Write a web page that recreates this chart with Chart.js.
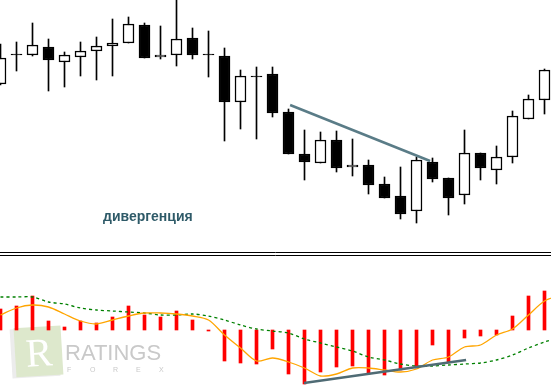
<!DOCTYPE html>
<html>
<head>
<meta charset="utf-8">
<script src="https://cdn.jsdelivr.net/npm/chart.js@4.4.1/dist/chart.umd.min.js"></script>
<style>
  html, body { margin: 0; padding: 0; background: #fff; }
  #wrap { position: relative; width: 551px; height: 388px; }
</style>
</head>
<body>
<div id="wrap"><canvas id="grafico"></canvas></div>
<script>
// Свечи: open, high, low, close (в пунктах)
const opens  = [166,196,195,203,188,193,199,204,207,225,193,195,212,196,194,148,174,176,138,96,87,110,83,85,66,54,39,88,72,55,97,80,93,131,150];
const highs  = [206,208,227,211,198,208,213,231,233,227,224,262,222,219,202,180,183,183,141,120,118,119,111,90,73,83,93,92,72,120,97,104,139,155,181];
const lows   = [165,179,194,159,163,174,170,174,207,192,191,184,191,173,109,121,111,133,96,70,87,78,74,56,52,31,27,68,35,46,70,66,87,131,136];
const closes = [192,195,205,190,195,199,204,207,226,192,195,211,195,195,148,174,173,137,96,88,110,82,85,65,52,36,90,71,52,97,82,93,134,151,180];

// Индикатор: гистограмма и две линии
const histogram = [21,24,34,9,3,9,7,13,24,15,13,19,10,-1,-31,-33,-34,-19,-44,-54,-42,-37,-36,-44,-45,-40,-38,-15,-33,-8,-6,-5,14,34,39];
const signalLine = [15,22,25,23,16,9,6,10,14,17,17,16,14,10,-5,-18,-31,-28,-32,-38,-46,-44,-38,-38,-40,-42,-39,-30,-27,-17,-15,-5,1,15,29,35];
const slowLine = [33,33,33,28,26,22,20,19,18,17,15,15,16,14,10,5,1,-1,-3,-9,-13,-17,-21,-27,-30,-34,-36,-36,-35,-34,-33,-30,-25,-18,-12,-7];

// Линии дивергенции: [номер свечи, значение]
const priceDivergence = [[18.1, 145], [26.85, 89]];
const indicatorDivergence = [[18.97, -53], [29.1, -30]];

const label = "дивергенция";

const idx = opens.map((_, i) => i);
const toXY = arr => arr.map((v, i) => ({ x: i, y: v }));

const decor = {
  id: "decor",
  beforeDatasetsDraw(chart) {
    const c = chart.ctx;
    c.save();
    // логотип (водяной знак)
    c.translate(37, 352);
    c.rotate(-0.06);
    c.fillStyle = "#ececec";
    c.fillRect(-26, -24, 48, 49);
    c.fillStyle = "#dde8cc";
    c.fillRect(-22, -25, 47, 49);
    c.fillStyle = "#ffffff";
    c.font = "40px 'Liberation Serif'";
    c.textAlign = "center";
    c.fillText("R", 2, 14);
    c.restore();

    c.save();
    c.fillStyle = "#c9c9c9";
    c.font = "22px 'Liberation Sans'";
    c.textBaseline = "alphabetic";
    c.fillText("RATINGS", 65, 360, 97);
    c.font = "7px 'Liberation Sans'";
    ["F", "O", "R", "E", "X"].forEach((ch, k) => c.fillText(ch, 67 + k * 23, 372));
    c.restore();
  },
  afterDatasetsDraw(chart) {
    const c = chart.ctx;
    c.save();
    c.strokeStyle = "#000";
    c.lineWidth = 1;
    [252.5, 255.5].forEach(y => {
      c.beginPath(); c.moveTo(0, y); c.lineTo(551, y); c.stroke();
    });
    c.fillStyle = "#2e5a68";
    c.font = "bold 14px 'Liberation Sans'";
    c.fillText(label, 103, 221);
    c.restore();
  }
};

new Chart(document.getElementById("grafico"), {
  plugins: [decor],
  data: {
    datasets: [
      {
        type: "bar",
        data: idx.map(i => ({ x: i, y: [lows[i], highs[i]] })),
        backgroundColor: "#000",
        barThickness: 1,
        grouped: false,
        yAxisID: "y",
        order: 5
      },
      {
        type: "bar",
        data: idx.map(i => ({ x: i, y: [opens[i], closes[i]] })),
        backgroundColor: idx.map(i => closes[i] > opens[i] ? "#fff" : "#000"),
        borderColor: "#000",
        borderWidth: 1.5,
        borderSkipped: false,
        barThickness: 11,
        grouped: false,
        yAxisID: "y",
        order: 4
      },
      {
        type: "bar",
        data: toXY(histogram),
        backgroundColor: "#ff0000",
        barThickness: 3,
        grouped: false,
        yAxisID: "y2",
        order: 4
      },
      {
        type: "line",
        data: toXY(slowLine),
        borderColor: "#008000",
        borderWidth: 1.3,
        borderDash: [3, 3],
        pointRadius: 0,
        tension: 0.3,
        yAxisID: "y2",
        order: 3
      },
      {
        type: "line",
        data: toXY(signalLine),
        borderColor: "#ffa500",
        borderWidth: 1.3,
        pointRadius: 0,
        tension: 0.3,
        yAxisID: "y2",
        order: 2
      },
      {
        type: "line",
        data: priceDivergence.map(p => ({ x: p[0], y: p[1] })),
        borderColor: "#5a7c87",
        borderWidth: 2.5,
        pointRadius: 0,
        yAxisID: "y",
        order: 1
      },
      {
        type: "line",
        data: indicatorDivergence.map(p => ({ x: p[0], y: p[1] })),
        borderColor: "#4f6b74",
        borderWidth: 2.5,
        pointRadius: 0,
        yAxisID: "y2",
        order: 1
      }
    ]
  },
  options: {
    responsive: true,
    maintainAspectRatio: false,
    animation: false,
    layout: { padding: 0 },
    plugins: { legend: { display: false }, tooltip: { enabled: false } },
    scales: {
      x: { type: "linear", min: -0.5 / 16, max: 550.5 / 16, offset: false, display: false },
      y: { min: -138, max: 250, display: false },
      y2: { min: -58, max: 330, display: false }
    }
  }
});
</script>
</body>
</html>
